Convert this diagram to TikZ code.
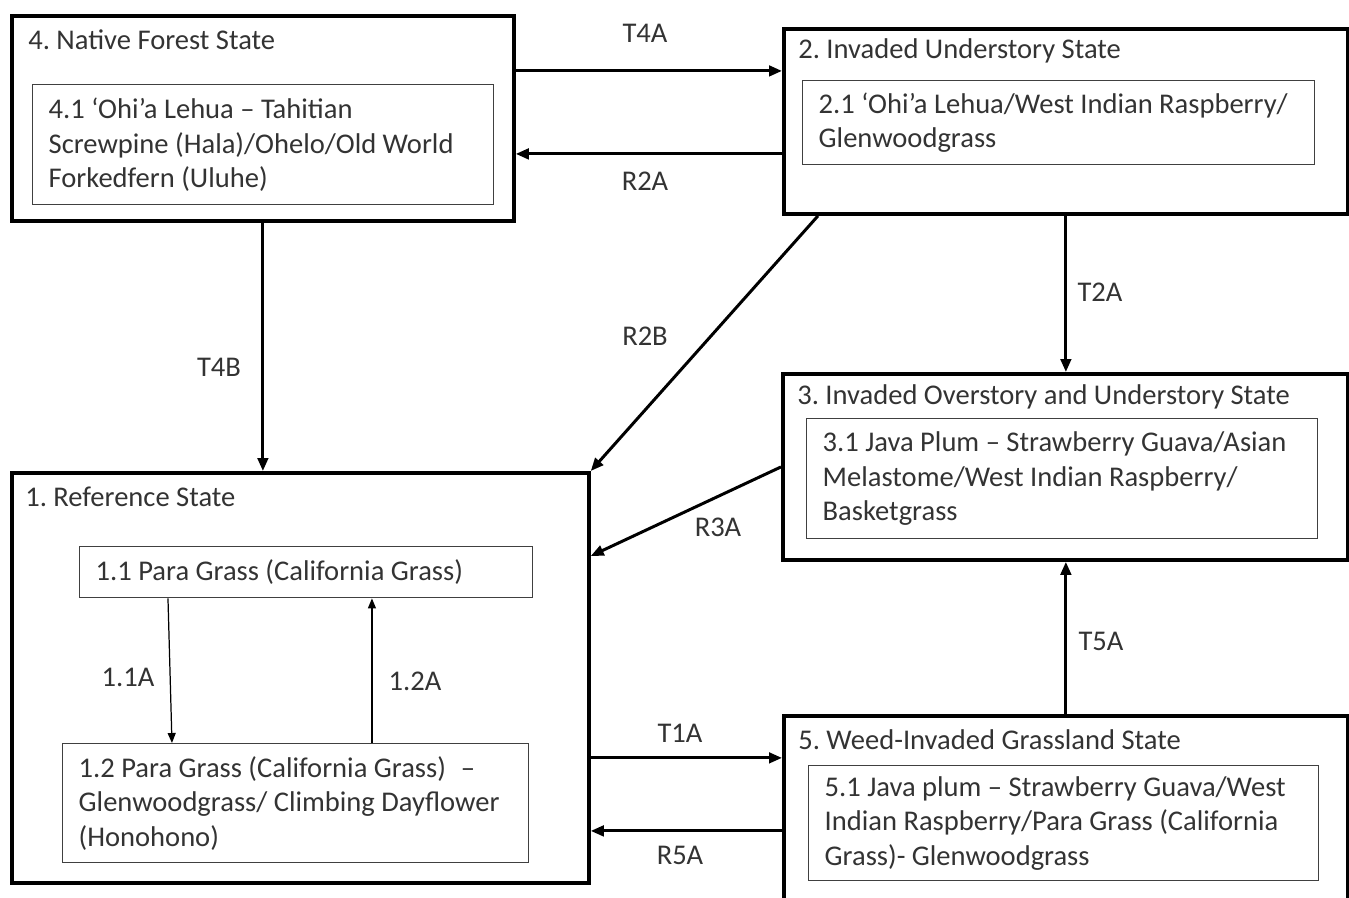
\documentclass[tikz,border=0pt]{standalone}
\usepackage{fontspec}
\setmainfont{Carlito}
\usetikzlibrary{arrows.meta}
\frenchspacing

\begin{document}
\begin{tikzpicture}[x=0.02cm, y=-0.02cm,
	state/.style={draw=black, line width=2.2pt, anchor=north west, inner sep=0pt},
	statename/.style={anchor=west, inner sep=0pt, text=black!80, font=\fontsize{16.25}{19.6}\selectfont},
	phase/.style={draw=black!75, line width=0.8pt, anchor=north west, align=flush left, inner xsep=0.32cm, inner ysep=0pt, text=black!80, font=\fontsize{16.25}{19.6}\selectfont},
	lbl/.style={text=black!80, font=\fontsize{16.25}{19.6}\selectfont},
	trans/.style={line width=1.7pt, -{Triangle[length=0.26cm, width=0.21cm]}},
	pathway/.style={line width=0.7pt, -{Triangle[length=0.2cm, width=0.16cm]}}]
	\useasboundingbox (0,0) rectangle (1349,897);

	\node [state, minimum width=10.04cm, minimum height=4.1cm] (s4) at (10, 14) {};
	\node [state, minimum width=11.28cm, minimum height=3.7cm] (s2) at (782, 27) {};
	\node [state, minimum width=11.3cm, minimum height=3.72cm] (s3) at (781, 372) {};
	\node [state, minimum width=11.54cm, minimum height=8.2cm] (s1) at (10, 471) {};
	\node [state, minimum width=11.28cm, minimum height=3.8cm] (s5) at (782, 714) {};

	\node [statename] (s4name) at (28, 40) {4. Native Forest State};
	\node [statename] (s2name) at (798, 51) {2. Invaded Understory State};
	\node [statename] (s3name) at (797, 397) {3. Invaded Overstory and Understory State};
	\node [statename] (s1name) at (25, 497) {1. Reference State};
	\node [statename] (s5name) at (798, 740) {5. Weed-Invaded Grassland State};

	\node [phase, text width=8.58cm, minimum height=2.4cm] (p41) at (32, 84) {4.1 ‘Ohi’a Lehua – Tahitian\\Screwpine (Hala)/Ohelo/Old World\\Forkedfern (Uluhe)};
	\node [phase, text width=9.6cm, minimum height=1.68cm] (p21) at (802, 80) {2.1 ‘Ohi’a Lehua/West Indian Raspberry/\\Glenwoodgrass};
	\node [phase, text width=9.58cm, minimum height=2.4cm] (p31) at (806, 418) {3.1 Java Plum – Strawberry Guava/Asian\\Melastome/West Indian Raspberry/\\Basketgrass};
	\node [phase, text width=8.42cm, minimum height=1.02cm] (p11) at (79, 546) {1.1 Para Grass (California Grass)};
	\node [phase, text width=8.68cm, minimum height=2.38cm] (p12) at (62, 743) {1.2 Para Grass (California Grass)\hspace{0.3cm}–\\Glenwoodgrass/ Climbing Dayflower\\(Honohono)};
	\node [phase, text width=9.56cm, minimum height=2.3cm] (p51) at (808, 765) {5.1 Java plum – Strawberry Guava/West\\Indian Raspberry/Para Grass (California\\Grass)- Glenwoodgrass};

	\draw [trans] ([yshift=0.95cm]s4.east) to ([yshift=0.95cm]s4.east -| s2.west);
	\draw [trans] ([yshift=-0.65cm]s2.west) to ([yshift=-0.65cm]s2.west -| s4.east);
	\draw [trans] (s4.south) to (s4.south |- s1.north);
	\draw [trans] ([xshift=0.72cm]s2.south west) to (s1.north east);
	\draw [trans] (s2.south) to (s2.south |- s3.north);
	\draw [trans] (s3.west) to ([yshift=-1.7cm]s1.north east);
	\draw [trans] (s5.north) to (s5.north |- s3.south);
	\draw [trans] ([yshift=-1.6cm]s1.east) to ([yshift=-1.6cm]s1.east -| s5.west);
	\draw [trans] ([yshift=-0.4cm]s5.west) to ([yshift=-0.4cm]s5.west -| s1.east);

	\draw [pathway] ([xshift=1.78cm]p11.south west) to ([xshift=2.2cm]p12.north west);
	\draw [pathway] ([xshift=6.2cm]p12.north west) to ([xshift=6.2cm]p12.north west |- p11.south);

	\node [lbl] (t4a) at (645, 33) {T4A};
	\node [lbl] (r2a) at (645, 181) {R2A};
	\node [lbl] (t4b) at (219, 367) {T4B};
	\node [lbl] (r2b) at (645, 336) {R2B};
	\node [lbl] (t2a) at (1100, 292) {T2A};
	\node [lbl] (r3a) at (718, 527) {R3A};
	\node [lbl] (t5a) at (1101, 641) {T5A};
	\node [lbl] (t1a) at (680, 733) {T1A};
	\node [lbl] (r5a) at (680, 855) {R5A};
	\node [lbl] (l11a) at (128, 677) {1.1A};
	\node [lbl] (l12a) at (415, 681) {1.2A};
\end{tikzpicture}
\end{document}
